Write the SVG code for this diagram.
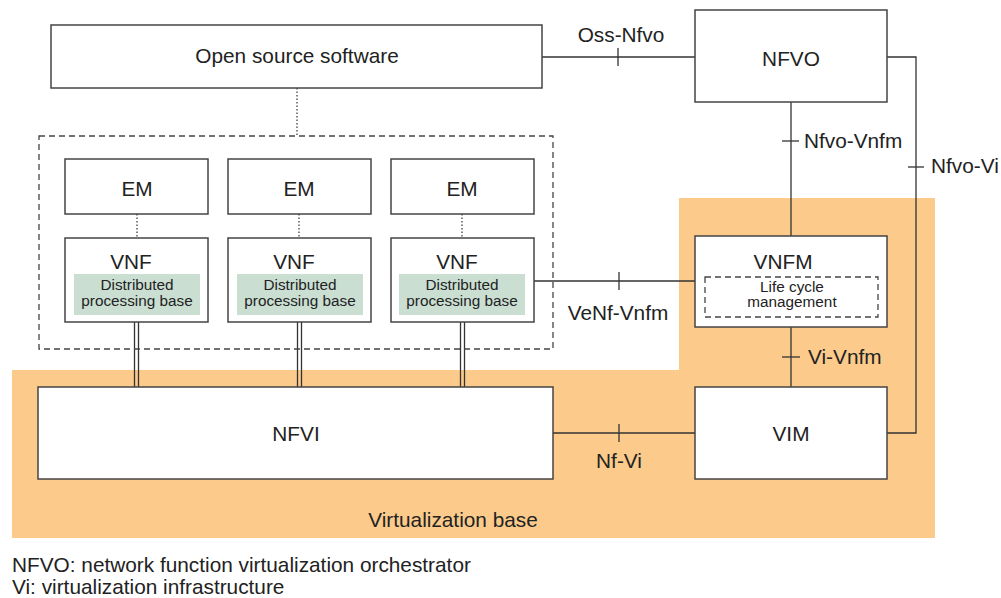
<svg xmlns="http://www.w3.org/2000/svg" width="1001" height="598" viewBox="0 0 1001 598">
<style>
text{font-family:"Liberation Sans",Arial,sans-serif;fill:#222;}
.t{font-size:20.8px;}
.s{font-size:15.3px;}
.box{fill:#fff;stroke:#444;stroke-width:1.5;}
.ln{fill:none;stroke:#333;stroke-width:1.3;}
.dot{fill:none;stroke:#333;stroke-width:1.2;stroke-dasharray:1.5 2;}
.dash{fill:none;stroke:#444;stroke-width:1.3;stroke-dasharray:6 4;}
.green{fill:#CADFD2;}
</style>
<g id="virtualization-base">
<polygon points="12,370 679,370 679,198 935,198 935,538 12,538" fill="#FCCB8B"/>
<text class="t" x="453" y="527" text-anchor="middle">Virtualization base</text>
</g>
<g id="connectors">
<line class="ln" x1="542" y1="57" x2="695" y2="57"/>
<line class="ln" x1="618" y1="48" x2="618" y2="66"/>
<polyline class="ln" points="887,57 916,57 916,433 887,433"/>
<line class="ln" x1="908" y1="167" x2="924" y2="167"/>
<line class="ln" x1="791" y1="102" x2="791" y2="236"/>
<line class="ln" x1="782" y1="141" x2="799" y2="141"/>
<line class="ln" x1="534" y1="281" x2="695" y2="281"/>
<line class="ln" x1="619" y1="272" x2="619" y2="290"/>
<line class="ln" x1="791" y1="327" x2="791" y2="387"/>
<line class="ln" x1="782" y1="357" x2="800" y2="357"/>
<line class="ln" x1="553" y1="433" x2="695" y2="433"/>
<line class="ln" x1="619" y1="424" x2="619" y2="442"/>
<line class="dot" x1="297" y1="88" x2="297" y2="136"/>
<line class="dot" x1="137" y1="214" x2="137" y2="238"/>
<line class="dot" x1="299" y1="214" x2="299" y2="238"/>
<line class="dot" x1="462" y1="214" x2="462" y2="238"/>
<line class="ln" x1="134.5" y1="322" x2="134.5" y2="387"/>
<line class="ln" x1="138.5" y1="322" x2="138.5" y2="387"/>
<line class="ln" x1="297.5" y1="322" x2="297.5" y2="387"/>
<line class="ln" x1="301.5" y1="322" x2="301.5" y2="387"/>
<line class="ln" x1="460.5" y1="322" x2="460.5" y2="387"/>
<line class="ln" x1="464.5" y1="322" x2="464.5" y2="387"/>
<rect class="dash" x="39" y="136" width="514" height="213"/>
<text class="t" x="621" y="42" text-anchor="middle">Oss-Nfvo</text>
<text class="t" x="804" y="148">Nfvo-Vnfm</text>
<text class="t" x="931" y="173">Nfvo-Vi</text>
<text class="t" x="618" y="320" text-anchor="middle">VeNf-Vnfm</text>
<text class="t" x="808" y="364">Vi-Vnfm</text>
<text class="t" x="619" y="468" text-anchor="middle">Nf-Vi</text>
</g>
<g id="oss">
<rect class="box" x="51" y="25" width="491" height="63"/>
<text class="t" x="297" y="63" text-anchor="middle">Open source software</text>
</g>
<g id="nfvo">
<rect class="box" x="695" y="10" width="192" height="92"/>
<text class="t" x="791" y="66" text-anchor="middle">NFVO</text>
</g>
<g id="em1"><rect class="box" x="65" y="159" width="143" height="55"/><text class="t" x="137" y="196" text-anchor="middle">EM</text></g>
<g id="em2"><rect class="box" x="228" y="159" width="143" height="55"/><text class="t" x="299" y="196" text-anchor="middle">EM</text></g>
<g id="em3"><rect class="box" x="391" y="159" width="143" height="55"/><text class="t" x="462" y="196" text-anchor="middle">EM</text></g>
<g id="vnf1">
<rect class="box" x="65" y="238" width="143" height="84"/>
<text class="t" x="131" y="269" text-anchor="middle">VNF</text>
<rect class="green" x="74" y="274" width="126" height="41"/>
<text class="s" x="137" y="290" text-anchor="middle">Distributed</text>
<text class="s" x="137" y="306" text-anchor="middle">processing base</text>
</g>
<g id="vnf2">
<rect class="box" x="228" y="238" width="143" height="84"/>
<text class="t" x="294" y="269" text-anchor="middle">VNF</text>
<rect class="green" x="237" y="274" width="126" height="41"/>
<text class="s" x="300" y="290" text-anchor="middle">Distributed</text>
<text class="s" x="300" y="306" text-anchor="middle">processing base</text>
</g>
<g id="vnf3">
<rect class="box" x="391" y="238" width="143" height="84"/>
<text class="t" x="457" y="269" text-anchor="middle">VNF</text>
<rect class="green" x="399" y="274" width="126" height="41"/>
<text class="s" x="462" y="290" text-anchor="middle">Distributed</text>
<text class="s" x="462" y="306" text-anchor="middle">processing base</text>
</g>
<g id="vnfm">
<rect class="box" x="695" y="236" width="192" height="91"/>
<text class="t" x="783" y="269" text-anchor="middle">VNFM</text>
<rect class="dash" x="705" y="277" width="173" height="40" stroke-dasharray="4 3"/>
<text class="s" x="792" y="292" text-anchor="middle">Life cycle</text>
<text class="s" x="792" y="307" text-anchor="middle">management</text>
</g>
<g id="nfvi">
<rect class="box" x="38" y="387" width="515" height="92"/>
<text class="t" x="296" y="441" text-anchor="middle">NFVI</text>
</g>
<g id="vim">
<rect class="box" x="695" y="387" width="192" height="92"/>
<text class="t" x="791" y="441" text-anchor="middle">VIM</text>
</g>
<g id="legend">
<text class="t" x="12" y="572">NFVO: network function virtualization orchestrator</text>
<text class="t" x="12" y="594">Vi: virtualization infrastructure</text>
</g>
</svg>
